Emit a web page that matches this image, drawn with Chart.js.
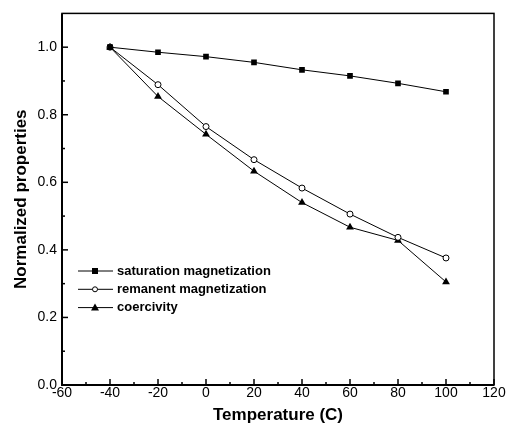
<!DOCTYPE html>
<html>
<head>
<meta charset="utf-8">
<script src="https://cdn.jsdelivr.net/npm/chart.js@4"></script>
<style>
    html, body { margin: 0; padding: 0; background: #fff; }
    #wrap { width: 508px; height: 438px; }
</style>
</head>
<body>
<div id="wrap"><canvas id="chart" width="508" height="438"></canvas></div>
<script>
const temperatures = [-40, -20, 0, 20, 40, 60, 80, 100];
const saturation = [1.0, 0.985, 0.972, 0.955, 0.933, 0.915, 0.893, 0.868];
const remanent = [1.0, 0.889, 0.765, 0.667, 0.583, 0.506, 0.437, 0.376];
const coercivity = [1.0, 0.854, 0.742, 0.633, 0.540, 0.467, 0.428, 0.305];
const xTicks = [-60, -40, -20, 0, 20, 40, 60, 80, 100, 120];
const yTicks = [0.0, 0.2, 0.4, 0.6, 0.8, 1.0];

const FONT = "'Liberation Sans', Arial, sans-serif";

function toPoints(values) {
    return values.map((v, i) => ({ x: temperatures[i], y: v }));
}

// inward ticks + top/right frame + in-plot legend
const framePlugin = {
    id: "frame",
    afterDraw(chart) {
        const ctx = chart.ctx;
        const area = chart.chartArea;
        const xs = chart.scales.x;
        const ys = chart.scales.y;
        ctx.save();
        ctx.strokeStyle = "#000";
        ctx.lineWidth = 1.5;
        ctx.strokeRect(area.left, area.top, area.right - area.left, area.bottom - area.top);

        ctx.lineWidth = 2;
        ctx.beginPath();
        ctx.moveTo(area.left, area.top);
        ctx.lineTo(area.left, area.bottom);
        ctx.lineTo(area.right, area.bottom);
        ctx.stroke();

        ctx.lineWidth = 1.5;
        for (let v = -60; v <= 120; v += 10) {
            const px = xs.getPixelForValue(v);
            const len = v % 20 === 0 ? 6 : 3;
            ctx.beginPath();
            ctx.moveTo(px, area.bottom);
            ctx.lineTo(px, area.bottom - len);
            ctx.stroke();
        }
        for (let i = 0; i <= 10; i++) {
            const v = i / 10;
            const py = ys.getPixelForValue(v);
            const len = i % 2 === 0 ? 6 : 3;
            ctx.beginPath();
            ctx.moveTo(area.left, py);
            ctx.lineTo(area.left + len, py);
            ctx.stroke();
        }

        // legend
        const entries = chart.data.datasets;
        let y = 271;
        ctx.font = "bold 13px " + FONT;
        ctx.textBaseline = "middle";
        entries.forEach(ds => {
            ctx.strokeStyle = "#000";
            ctx.lineWidth = 1;
            ctx.beginPath();
            ctx.moveTo(78, y);
            ctx.lineTo(113, y);
            ctx.stroke();
            const cx = 95;
            ctx.fillStyle = "#000";
            ctx.beginPath();
            if (ds.pointStyle === "rect") {
                ctx.fillRect(cx - 3, y - 3, 6, 6);
            } else if (ds.pointStyle === "circle") {
                ctx.fillStyle = "#fff";
                ctx.arc(cx, y, 2.5, 0, Math.PI * 2);
                ctx.fill();
                ctx.stroke();
            } else {
                ctx.moveTo(cx, y - 4);
                ctx.lineTo(cx + 4, y + 3);
                ctx.lineTo(cx - 4, y + 3);
                ctx.closePath();
                ctx.fill();
            }
            ctx.fillStyle = "#000";
            ctx.fillText(ds.label, 117, y);
            y += 18.3;
        });
        ctx.restore();
    }
};

const ctx = document.getElementById("chart").getContext("2d");
const chart = new Chart(ctx, {
    type: "line",
    data: {
        datasets: [
            {
                label: "saturation magnetization",
                data: toPoints(saturation),
                borderColor: "#000",
                borderWidth: 1,
                pointStyle: "rect",
                pointRadius: 4,
                backgroundColor: "#000",
                pointBackgroundColor: "#000",
                pointBorderColor: "#000",
                pointBorderWidth: 0
            },
            {
                label: "remanent magnetization",
                data: toPoints(remanent),
                borderColor: "#000",
                borderWidth: 1,
                pointStyle: "circle",
                pointRadius: 3,
                backgroundColor: "#fff",
                pointBackgroundColor: "#fff",
                pointBorderColor: "#000",
                pointBorderWidth: 1
            },
            {
                label: "coercivity",
                data: toPoints(coercivity),
                borderColor: "#000",
                borderWidth: 1,
                pointStyle: "triangle",
                pointRadius: 4.5,
                backgroundColor: "#000",
                pointBackgroundColor: "#000",
                pointBorderColor: "#000",
                pointBorderWidth: 0
            }
        ]
    },
    options: {
        responsive: false,
        animation: false,
        layout: { padding: { top: 12, right: 14, left: 0, bottom: 0 } },
        plugins: {
            legend: { display: false },
            tooltip: { enabled: false }
        },
        scales: {
            x: {
                type: "linear",
                min: -60,
                max: 120,
                afterBuildTicks: scale => { scale.ticks = xTicks.map(v => ({ value: v })); },
                ticks: {
                    color: "#000",
                    font: { family: FONT, size: 14 },
                    padding: 0,
                    maxRotation: 0
                },
                grid: { display: false, drawTicks: false },
                border: { display: false },
                title: {
                    display: true,
                    text: "Temperature (C)",
                    color: "#000",
                    font: { family: FONT, size: 17, weight: "bold" },
                    padding: { top: 0, bottom: 12 }
                },
                afterFit: scale => { scale.height = 53; }
            },
            y: {
                min: 0,
                max: 1.1,
                afterBuildTicks: scale => { scale.ticks = yTicks.map(v => ({ value: v })); },
                ticks: {
                    color: "#000",
                    font: { family: FONT, size: 14 },
                    padding: 5,
                    callback: v => v.toFixed(1)
                },
                grid: { display: false, drawTicks: false },
                border: { display: false },
                title: {
                    display: true,
                    text: "Normalized properties",
                    color: "#000",
                    font: { family: FONT, size: 17, weight: "bold" },
                    padding: { top: 11, bottom: 0 }
                },
                afterFit: scale => { scale.width = 62; }
            }
        }
    },
    plugins: [framePlugin]
});
</script>
</body>
</html>
